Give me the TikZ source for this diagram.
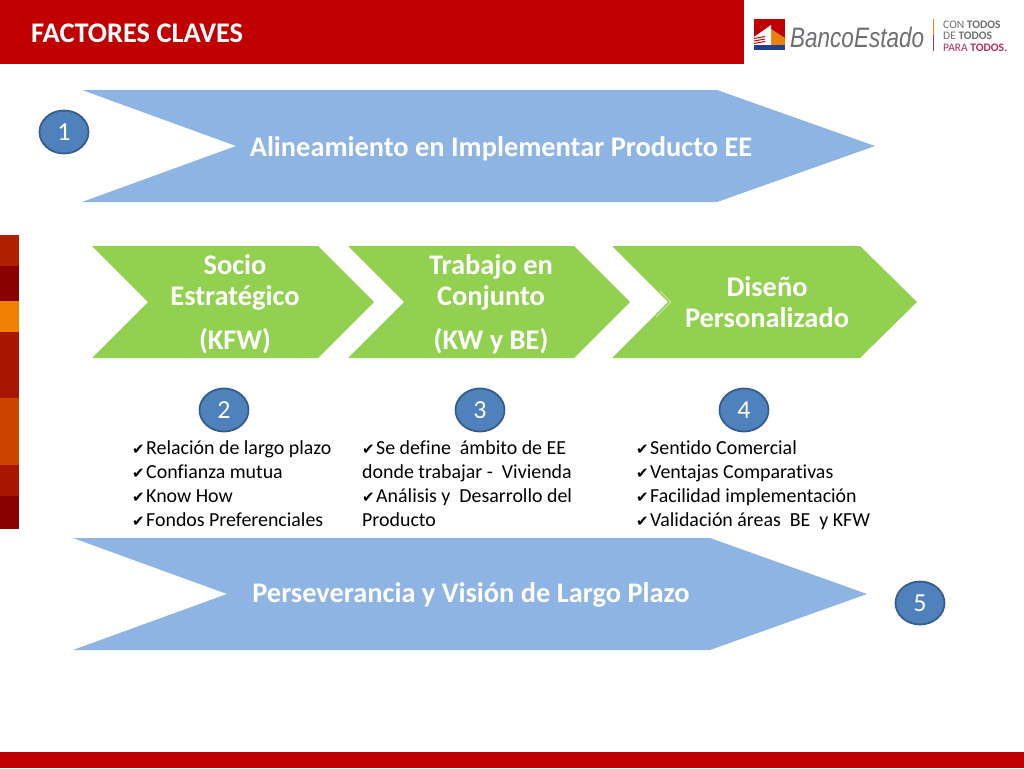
\documentclass[tikz,border=0pt]{standalone}
\usepackage{fontspec}
\setmainfont[Ligatures=NoCommon]{Carlito}
\newfontfamily\tickfont{DejaVu Sans}
\newfontfamily\logofont{Liberation Sans}
\definecolor{bankred}{HTML}{C00000}
\definecolor{chevblue}{HTML}{8EB4E3}
\definecolor{chevgreen}{HTML}{92D050}
\definecolor{discfill}{HTML}{4F81BD}
\definecolor{discline}{HTML}{385D8A}
\definecolor{logogrey}{HTML}{6D6E71}
\definecolor{logorose}{HTML}{B0305A}
\definecolor{logoblue}{HTML}{1F3F8F}
\definecolor{logoorange}{HTML}{E8820C}
\definecolor{stripred}{HTML}{B01F00}
\definecolor{stripdark}{HTML}{8B0000}
\definecolor{striporange}{HTML}{F08000}
\definecolor{stripmid}{HTML}{A81500}
\definecolor{stripburnt}{HTML}{CC4400}
\newcommand{\tick}{\makebox[14pt][l]{\tickfont\fontsize{15}{15}\selectfont ✔}}
\tikzset{
  bluetitle/.style={text=white,font=\fontsize{28.4}{34}\selectfont\bfseries},
  greentitle/.style={text=white,font=\fontsize{28.4}{31}\selectfont\bfseries,align=center},
  disc/.style={ellipse,draw=discline,line width=1.8pt,fill=discfill,text=white,
    minimum width=49pt,minimum height=43pt,inner sep=0pt,font=\fontsize{26}{26}\selectfont},
  ticklist/.style={anchor=north west,inner sep=0pt,align=left,font=\fontsize{19.9}{24}\selectfont}
}
\usetikzlibrary{shapes.geometric}
\begin{document}
\begin{tikzpicture}[x=1pt,y=-1pt]
        \useasboundingbox (0,0) rectangle (1024,768);
        %% Header and footer
        \fill[bankred] (0,0) rectangle (744,64);
        \fill[bankred] (0,752) rectangle (1024,768);
        \node[anchor=west,inner sep=0pt,text=white,font=\fontsize{28.4}{30}\selectfont\bfseries] (headtitle) at (31,33) {FACTORES CLAVES};
        %% Logo
        \fill[bankred] (754,19) rectangle (785,50);
        \fill[logoorange] (771,29) -- (785,38) -- (785,45) -- (771,45) -- cycle;
        \fill[white] (754,37) -- (771,25) -- (771,45) -- (754,45) -- cycle;
        \foreach \stripe in {38.5,41,43.5}
            \draw[bankred,line width=1pt] (754,\stripe) -- (765,\stripe-2);
        \fill[logoblue] (754,45) rectangle (785,50);
        \node[anchor=west,inner sep=0pt,text=logogrey,yscale=1.25,transform shape,font=\logofont\itshape\fontsize{22.5}{25}\selectfont] (logoname) at (790,37) {BancoEstado};
        \fill[logoorange] (932.5,19) rectangle (934,35);
        \fill[logorose] (932.5,35) rectangle (934,51);
        \node[anchor=north west,inner sep=0pt,align=left,text=logogrey,font=\fontsize{11.5}{11.5}\selectfont] (logotag) at (943,20.5)
            {CON \textbf{TODOS}\\DE \textbf{TODOS}\\\textcolor{logorose}{PARA \textbf{TODOS.}}};
        %% Side strip
        \fill[stripred] (0,235) rectangle (18.5,266);
        \fill[stripdark] (0,266) rectangle (18.5,301);
        \fill[striporange] (0,301) rectangle (18.5,332);
        \fill[stripmid] (0,332) rectangle (18.5,398);
        \fill[stripburnt] (0,398) rectangle (18.5,465);
        \fill[stripmid] (0,465) rectangle (18.5,496);
        \fill[stripdark] (0,496) rectangle (18.5,529);
        %% Chevrons
        \fill[chevblue] (82,90) -- (717,90) -- (875,146) -- (717,202) -- (82,202) -- (236,146) -- cycle;
        \fill[chevblue] (73,538) -- (710,538) -- (867,594) -- (710,650) -- (73,650) -- (227,594) -- cycle;
        \fill[chevgreen] (92,246) -- (318,246) -- (374,302) -- (318,358) -- (92,358) -- (148,302) -- cycle;
        \fill[chevgreen] (348,246) -- (574,246) -- (630,302) -- (574,358) -- (348,358) -- (404,302) -- cycle;
        \fill[chevgreen] (612,246) -- (860,246) -- (917,302) -- (860,358) -- (612,358) -- (668,302) -- cycle;
        \draw[white!70!chevgreen,line width=0.6pt] (660,291) -- (671,302) -- (656,317);
        %% Labels
        \node[bluetitle] (align) at (501,149) {Alineamiento en Implementar Producto EE};
        \node[bluetitle] (persist) at (471,595) {Perseverancia y Visión de Largo Plazo};
        \node[greentitle] (socio) at (235,304) {Socio\\Estratégico\\[13pt](KFW)};
        \node[greentitle] (trabajo) at (491,304) {Trabajo en\\Conjunto\\[13pt](KW y BE)};
        \node[greentitle] (diseno) at (767,302) {Diseño\\Personalizado};
        %% Numbers
        \node[disc] (one) at (64,132) {1};
        \node[disc] (two) at (224,410) {2};
        \node[disc] (three) at (480,410) {3};
        \node[disc] (four) at (744,410) {4};
        \node[disc] (five) at (920,603) {5};
        %% Lists
        \node[ticklist] (listtwo) at (132,440) {\tick Relación de largo plazo\\\tick Confianza mutua\\\tick Know How\\\tick Fondos Preferenciales};
        \node[ticklist] (listthree) at (362,440) {\tick Se define~ ámbito de EE\\donde trabajar -~ Vivienda\\\tick Análisis y~ Desarrollo del\\Producto};
        \node[ticklist] (listfour) at (636,440) {\tick Sentido Comercial\\\tick Ventajas Comparativas\\\tick Facilidad implementación\\\tick Validación áreas~ BE~ y KFW};
    \end{tikzpicture}
\end{document}
